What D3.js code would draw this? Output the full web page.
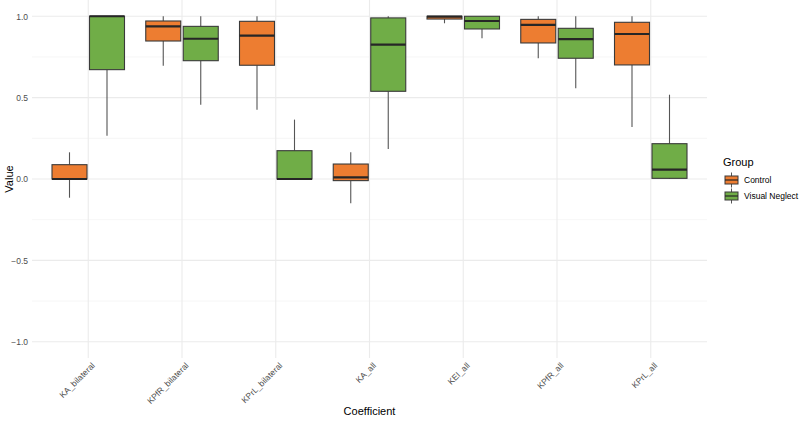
<!DOCTYPE html>
<html>
<head>
<meta charset="utf-8">
<script src="https://cdn.jsdelivr.net/npm/d3@7"></script>
<style>
  body { margin: 0; background: #fff; }
  text { font-family: "Liberation Sans", Arial, sans-serif; }
</style>
</head>
<body>
<svg id="chart" width="800" height="421"></svg>
<script>
var coefficients = ['KA_bilateral', 'KPfR_bilateral', 'KPrL_bilateral', 'KA_all', 'KEI_all', 'KPfR_all', 'KPrL_all'];
var groups = ['Control', 'Visual Neglect'];
var groupColors = ['#ED7D31', '#70AD47'];

// [lower whisker, Q1, median, Q3, upper whisker] per coefficient
var controlStats = [
  [-0.115, 0.0, 0.0, 0.088, 0.164],
  [0.696, 0.848, 0.938, 0.971, 1.0],
  [0.426, 0.699, 0.881, 0.969, 1.0],
  [-0.149, -0.010, 0.010, 0.092, 0.164],
  [0.957, 0.983, 0.998, 1.0, 1.0],
  [0.742, 0.836, 0.947, 0.981, 1.0],
  [0.320, 0.701, 0.891, 0.963, 1.0]
];
var neglectStats = [
  [0.266, 0.672, 1.0, 1.0, 1.0],
  [0.457, 0.727, 0.862, 0.938, 1.0],
  [0.0, 0.0, 0.0, 0.174, 0.365],
  [0.184, 0.539, 0.826, 0.990, 1.0],
  [0.865, 0.922, 0.971, 1.0, 1.0],
  [0.557, 0.742, 0.860, 0.926, 1.0],
  [0.0, 0.004, 0.057, 0.217, 0.518]
];

var yMajor = [-1, -0.5, 0, 0.5, 1];
var yMinor = [-0.75, -0.25, 0.25, 0.75];

var svg = d3.select('#chart');
var panel = {left: 32, right: 707, top: 0, bottom: 358};

// 0.6 units of expansion each side, like ggplot's discrete scale
var x = d3.scalePoint()
  .domain(coefficients)
  .range([panel.left, panel.right])
  .padding(0.6);

var y = d3.scaleLinear()
  .domain([-1.1, 1.1])
  .range([panel.bottom, panel.top]);

var grid = svg.append('g');

grid.selectAll('.minor')
  .data(yMinor)
  .enter().append('line')
    .attr('x1', panel.left).attr('x2', panel.right)
    .attr('y1', function(d) { return y(d); })
    .attr('y2', function(d) { return y(d); })
    .attr('stroke', '#f0f0f0')
    .attr('stroke-width', 0.6);

grid.selectAll('.major')
  .data(yMajor)
  .enter().append('line')
    .attr('x1', panel.left).attr('x2', panel.right)
    .attr('y1', function(d) { return y(d); })
    .attr('y2', function(d) { return y(d); })
    .attr('stroke', '#ebebeb')
    .attr('stroke-width', 1.1);

grid.selectAll('.vmajor')
  .data(coefficients)
  .enter().append('line')
    .attr('x1', function(d) { return x(d); })
    .attr('x2', function(d) { return x(d); })
    .attr('y1', panel.top).attr('y2', panel.bottom)
    .attr('stroke', '#ebebeb')
    .attr('stroke-width', 1.1);

// y axis labels
svg.append('g')
  .attr('transform', 'translate(' + (panel.left - 3) + ',0)')
  .call(d3.axisLeft(y).tickValues(yMajor).tickSize(0).tickFormat(d3.format('.1f')))
  .call(function(g) {
    g.select('.domain').remove();
    g.selectAll('text')
      .attr('fill', '#4d4d4d')
      .attr('font-size', 8.5)
      .attr('x', -1)
      .attr('font-family', '"Liberation Sans", Arial, sans-serif');
  });

// x axis labels
svg.append('g')
  .selectAll('text')
  .data(coefficients)
  .enter().append('text')
    .attr('transform', function(d) {
      return 'translate(' + (x(d) + 5) + ',' + (panel.bottom + 6) + ') rotate(-45)';
    })
    .attr('text-anchor', 'end')
    .attr('dy', '0.35em')
    .attr('font-size', 8.5)
    .attr('fill', '#4d4d4d')
    .text(function(d) { return d; });

var boxWidth = 35;
var dodge = 18.75;

function drawBoxes(stats, gi) {
  var offset = gi === 0 ? -dodge : dodge;
  var g = svg.append('g');
  var boxes = g.selectAll('g')
    .data(stats)
    .enter().append('g')
      .attr('transform', function(d, i) {
        return 'translate(' + (x(coefficients[i]) + offset) + ',0)';
      });

  boxes.append('line')
    .attr('x1', 0).attr('x2', 0)
    .attr('y1', function(d) { return y(d[4]); })
    .attr('y2', function(d) { return y(d[3]); })
    .attr('stroke', '#555')
    .attr('stroke-width', 1.1);

  boxes.append('line')
    .attr('x1', 0).attr('x2', 0)
    .attr('y1', function(d) { return y(d[1]); })
    .attr('y2', function(d) { return y(d[0]); })
    .attr('stroke', '#555')
    .attr('stroke-width', 1.1);

  boxes.append('rect')
    .attr('x', -boxWidth / 2)
    .attr('width', boxWidth)
    .attr('y', function(d) { return y(d[3]); })
    .attr('height', function(d) { return Math.max(0.5, y(d[1]) - y(d[3])); })
    .attr('fill', groupColors[gi])
    .attr('stroke', '#3a3a3a')
    .attr('stroke-width', 1.1);

  boxes.append('line')
    .attr('x1', -boxWidth / 2).attr('x2', boxWidth / 2)
    .attr('y1', function(d) { return y(d[2]); })
    .attr('y2', function(d) { return y(d[2]); })
    .attr('stroke', '#262626')
    .attr('stroke-width', 2.2);
}

drawBoxes(controlStats, 0);
drawBoxes(neglectStats, 1);

// axis titles
svg.append('text')
  .attr('x', (panel.left + panel.right) / 2)
  .attr('y', 415)
  .attr('text-anchor', 'middle')
  .attr('font-size', 11)
  .attr('fill', '#000')
  .text('Coefficient');

svg.append('text')
  .attr('transform', 'translate(13,' + y(0) + ') rotate(-90)')
  .attr('text-anchor', 'middle')
  .attr('font-size', 11)
  .attr('fill', '#000')
  .text('Value');

// legend
var legend = svg.append('g').attr('transform', 'translate(723,0)');
legend.append('text')
  .attr('x', 0).attr('y', 166)
  .attr('font-size', 11)
  .text('Group');

var items = legend.selectAll('.item')
  .data(groups)
  .enter().append('g')
    .attr('transform', function(d, i) { return 'translate(0,' + (171.5 + i * 16) + ')'; });

items.append('line')
  .attr('x1', 8.5).attr('x2', 8.5)
  .attr('y1', 1).attr('y2', 16)
  .attr('stroke', '#555');

items.append('rect')
  .attr('x', 2).attr('y', 4.5)
  .attr('width', 13).attr('height', 8)
  .attr('fill', function(d, i) { return groupColors[i]; })
  .attr('stroke', '#3a3a3a')
  .attr('stroke-width', 1);

items.append('line')
  .attr('x1', 2).attr('x2', 15)
  .attr('y1', 8.5).attr('y2', 8.5)
  .attr('stroke', '#262626')
  .attr('stroke-width', 1.2);

items.append('text')
  .attr('x', 21).attr('y', 8.5)
  .attr('dy', '0.35em')
  .attr('font-size', 8.5)
  .text(function(d) { return d; });
</script>
</body>
</html>
